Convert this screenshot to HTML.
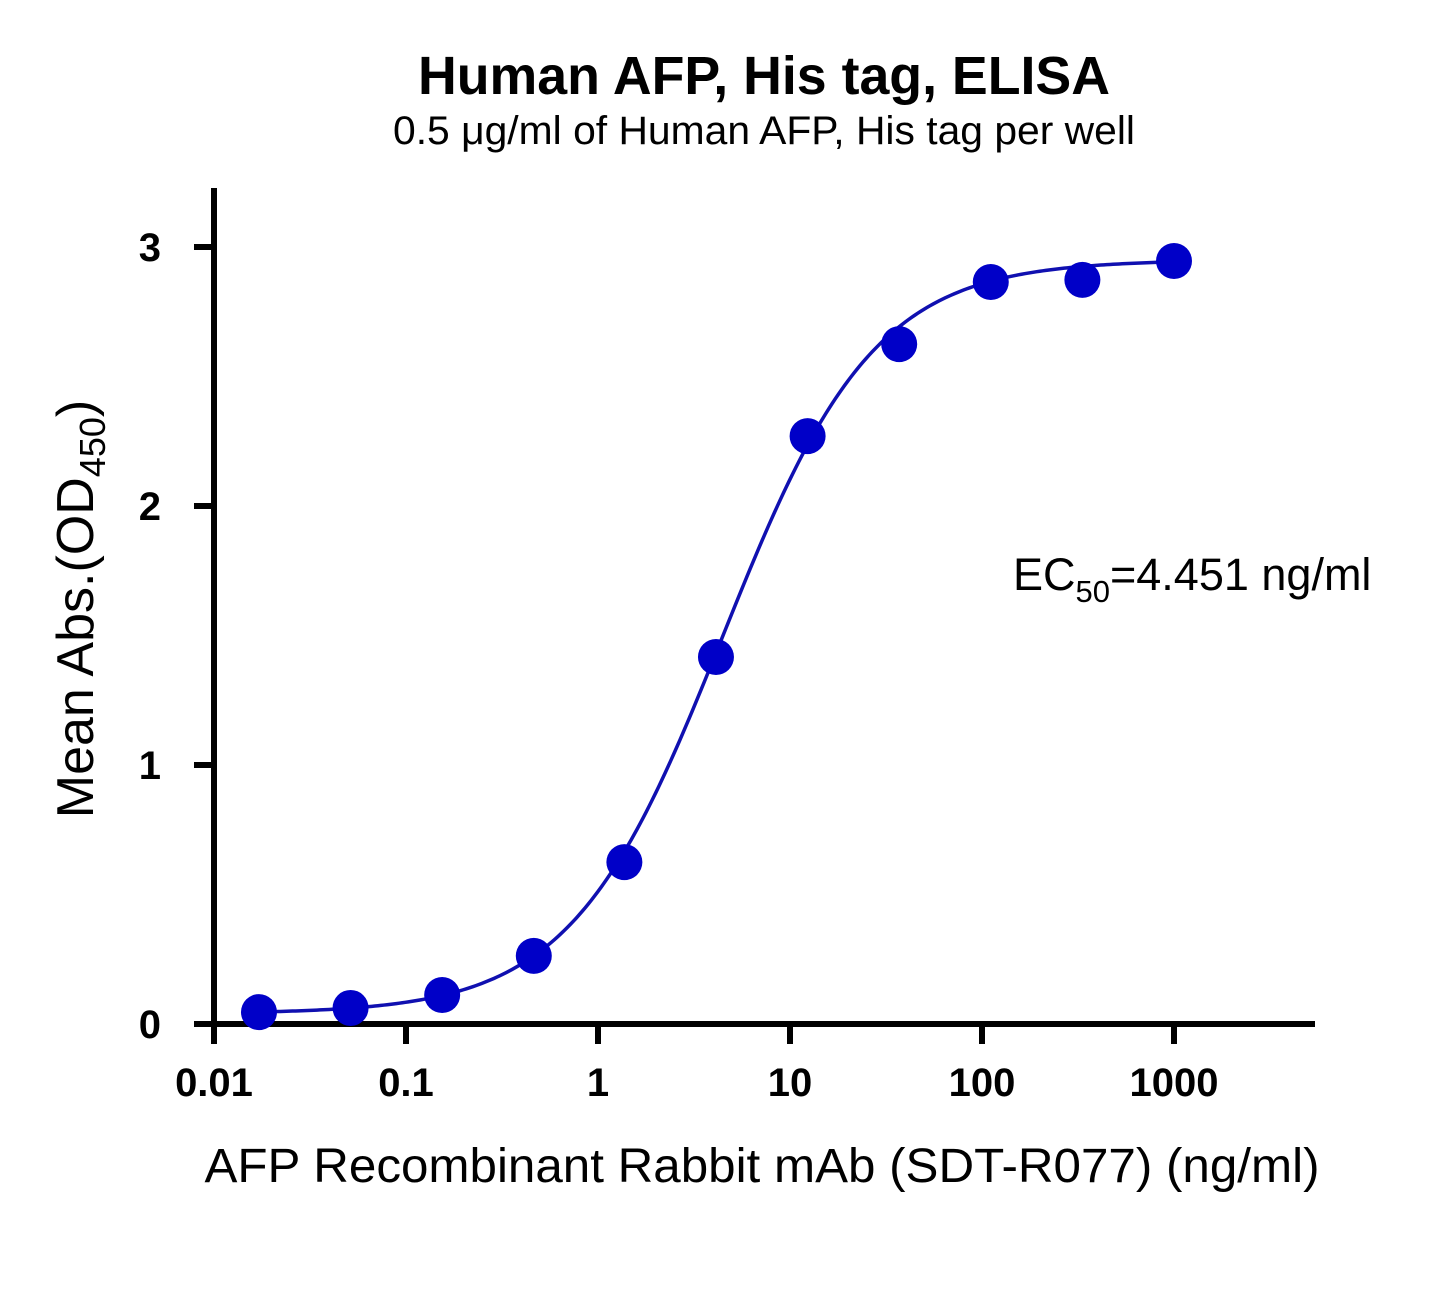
<!DOCTYPE html>
<html><head><meta charset="utf-8"><style>
body{margin:0;background:#fff;}
svg text{font-family:"Liberation Sans",Arial,sans-serif;}
</style></head><body>
<svg id="chart" width="1455" height="1289" viewBox="0 0 1455 1289" xmlns="http://www.w3.org/2000/svg">
<text x="764" y="94" font-size="54" font-weight="bold" text-anchor="middle" textLength="692" lengthAdjust="spacingAndGlyphs">Human AFP, His tag, ELISA</text>
<text x="764" y="144" font-size="40" text-anchor="middle" textLength="742" lengthAdjust="spacingAndGlyphs">0.5 μg/ml of Human AFP, His tag per well</text>
<text transform="translate(93,609) rotate(-90)" font-size="52" text-anchor="middle">Mean Abs.(OD<tspan font-size="36" dy="12">450</tspan><tspan dy="-12">)</tspan></text>
<text x="762" y="1182" font-size="48" text-anchor="middle" textLength="1115" lengthAdjust="spacingAndGlyphs">AFP Recombinant Rabbit mAb (SDT-R077) (ng/ml)</text>
<text x="1013" y="590" font-size="45">EC<tspan font-size="31" dy="12">50</tspan><tspan dy="-12">=4.451 ng/ml</tspan></text>
<g id="axes"></g><g id="marks"></g>
</svg>
<script>
const xValues=[0.01715,0.05144,0.1543,0.4630,1.372,4.115,12.35,37.04,111.1,333.3,1000];
const yValues=[0.046,0.062,0.112,0.263,0.625,1.417,2.27,2.625,2.865,2.873,2.946];
const xTicks=[0.01,0.1,1,10,100,1000];
const xTickLabels=["0.01","0.1","1","10","100","1000"];
const yTicks=[0,1,2,3];
const yTickLabels=["0","1","2","3"];
const fitBottom=0.04, fitTop=2.95, fitEC50=4.451, fitHill=1.1;

const NS="http://www.w3.org/2000/svg";
const X0=214,Y0=1024,PXDEC=192,PXUNIT=259;
const xs=v=>X0+(Math.log10(v)+2)*PXDEC;
const ys=v=>Y0-v*PXUNIT;
function mk(tag,attrs,parent){const e=document.createElementNS(NS,tag);for(const k in attrs)e.setAttribute(k,attrs[k]);parent.appendChild(e);return e;}
const axes=document.getElementById('axes'),marks=document.getElementById('marks');

let a=mk('line',{x1:X0,y1:188,x2:X0,y2:Y0+3,stroke:'#000','stroke-width':6},axes);


a=mk('line',{x1:X0-3,y1:Y0,x2:1315,y2:Y0,stroke:'#000','stroke-width':6},axes);



yTicks.forEach((t,i)=>{
  const l=mk('line',{x1:X0-20,y1:ys(t),x2:X0,y2:ys(t),stroke:'#000','stroke-width':6},axes);
  
  
  const tx=mk('text',{x:161,y:ys(t)+14,'font-size':40,'font-weight':'bold','text-anchor':'end'},axes);
  tx.textContent=yTickLabels[i];
  
  
});
xTicks.forEach((t,i)=>{
  const l=mk('line',{x1:xs(t),y1:Y0,x2:xs(t),y2:Y0+20,stroke:'#000','stroke-width':6},axes);
  
  
  const tx=mk('text',{x:xs(t),y:1096,'font-size':40,'font-weight':'bold','text-anchor':'middle'},axes);
  tx.textContent=xTickLabels[i];
  
  
});

const f=x=>fitBottom+(fitTop-fitBottom)/(1+Math.pow(fitEC50/x,fitHill));
let d='';
const lo=Math.log10(xValues[0]),hi=Math.log10(xValues[xValues.length-1]);
for(let i=0;i<=300;i++){const lx=lo+(hi-lo)*i/300,x=Math.pow(10,lx);d+=(i?'L':'M')+xs(x).toFixed(2)+','+ys(f(x)).toFixed(2);}
const c=mk('path',{d:d,fill:'none',stroke:'#1010b0','stroke-width':3.5},marks);



xValues.forEach((x,i)=>{
  const p=mk('circle',{cx:xs(x),cy:ys(yValues[i]),r:18,fill:'#0000c8'},marks);
  
  
});
</script>
</body></html>
